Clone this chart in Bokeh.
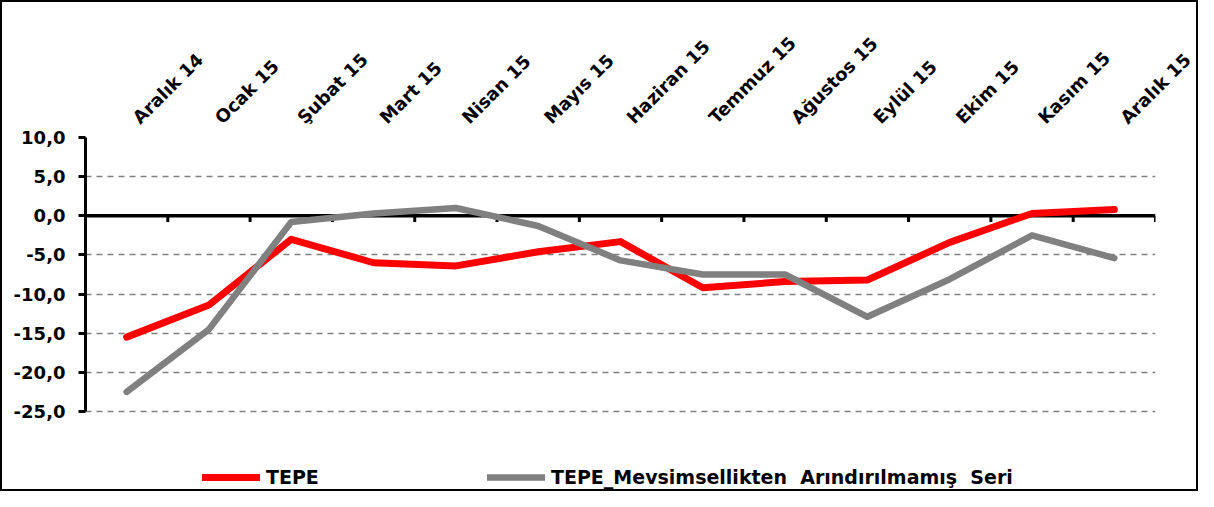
import math
from bokeh.plotting import figure
from bokeh.models import (FixedTicker, CustomJSTickFormatter, Span, Legend, LegendItem, Range1d)
from bokeh.embed import file_html
from bokeh.resources import INLINE

categories = ["Aralık 14", "Ocak 15", "Şubat 15", "Mart 15", "Nisan 15", "Mayıs 15",
              "Haziran 15", "Temmuz 15", "Ağustos 15", "Eylül 15", "Ekim 15", "Kasım 15", "Aralık 15"]
tepe = [-15.5, -11.4, -3.0, -6.0, -6.4, -4.6, -3.3, -9.2, -8.4, -8.2, -3.4, 0.3, 0.8]
tepe_nsa = [-22.5, -14.5, -0.8, 0.3, 1.0, -1.3, -5.7, -7.5, -7.5, -12.9, -8.1, -2.5, -5.4]
y_ticks = [-25, -20, -15, -10, -5, 0, 5, 10]
series_names = ["TEPE", "TEPE_Mevsimsellikten  Arındırılmamış  Seri"]

xs = list(range(len(categories)))
boundaries = [i + 0.5 for i in xs]

# layout: plot area 274 px for the 35 units of the value axis; frame extended down to host legend
FRAME_TOP, FIG_H, BOTTOM_BORDER = 137, 491, 2
frame_h = FIG_H - FRAME_TOP - BOTTOM_BORDER
px_per_unit = 274 / (max(y_ticks) - min(y_ticks))
y_start = max(y_ticks) - frame_h / px_per_unit

p = figure(width=1198, height=FIG_H, output_backend="svg", toolbar_location=None,
           x_axis_location="above", x_range=Range1d(-0.5, len(categories) - 0.5),
           y_range=Range1d(y_start, max(y_ticks)),
           min_border_left=85, min_border_right=43, min_border_top=FRAME_TOP,
           min_border_bottom=BOTTOM_BORDER)
p.outline_line_color = None
p.background_fill_color = None
p.border_fill_color = None
p.styles = {"outline": "2px solid black", "outline-offset": "-2px", "background-color": "white"}

# top category axis (labels start slightly right of each category centre)
xa = p.xaxis[0]
xa.ticker = FixedTicker(ticks=[i + 0.11 for i in xs])
xa.formatter = CustomJSTickFormatter(args=dict(cats=categories),
                                     code="return cats[Math.round(tick)];")
xa.major_label_orientation = math.pi / 4
xa.axis_line_color = None
xa.major_tick_line_color = None
xa.minor_tick_line_color = None
xa.major_label_standoff = 11
xa.major_label_text_font = "DejaVu Sans"
xa.major_label_text_font_style = "bold"
xa.major_label_text_font_size = "18px"
xa.major_label_text_color = "black"

ya = p.yaxis[0]
ya.ticker = FixedTicker(ticks=y_ticks)
ya.bounds = (min(y_ticks), max(y_ticks))
ya.formatter = CustomJSTickFormatter(code="return tick.toFixed(1).replace('.', ',');")
ya.axis_line_color = "black"
ya.axis_line_width = 3
ya.major_tick_line_color = "black"
ya.major_tick_line_width = 3
ya.major_tick_out = 7
ya.major_tick_in = 0
ya.minor_tick_line_color = None
ya.major_label_standoff = 13
ya.major_label_text_font = "DejaVu Sans"
ya.major_label_text_font_style = "bold"
ya.major_label_text_font_size = "18px"
ya.major_label_text_color = "black"

p.xgrid.grid_line_color = None
p.ygrid.ticker = FixedTicker(ticks=[t for t in y_ticks if t != 0])
p.ygrid.grid_line_color = "#808080"
p.ygrid.grid_line_width = 1.6
p.ygrid.grid_line_dash = "6 5"

zero = Span(location=0, dimension="width", line_color="black", line_width=3.5, level="underlay")
p.add_layout(zero)
p.segment(x0=boundaries, y0=[0] * len(boundaries), x1=boundaries, y1=[-0.8] * len(boundaries),
          line_color="black", line_width=3)

r1 = p.line(xs, tepe, line_color="#FF0000", line_width=7, line_cap="round", line_join="round")
r2 = p.line(xs, tepe_nsa, line_color="#808080", line_width=6.5, line_cap="round", line_join="round")

legend = Legend(items=[LegendItem(label=series_names[0], renderers=[r1]),
                       LegendItem(label=series_names[1], renderers=[r2])],
                orientation="horizontal", location=(117, 1))
legend.padding = 0
legend.margin = 0
legend.spacing = 0
legend.border_line_color = None
legend.background_fill_alpha = 0
legend.glyph_width = 58
legend.glyph_height = 20
legend.label_height = 20
legend.label_width = 221
legend.label_standoff = 6
legend.label_text_font = "DejaVu Sans"
legend.label_text_font_style = "bold"
legend.label_text_font_size = "19px"
legend.label_text_color = "black"
p.add_layout(legend, "center")

open("out.html", "w").write(file_html(p, INLINE))
